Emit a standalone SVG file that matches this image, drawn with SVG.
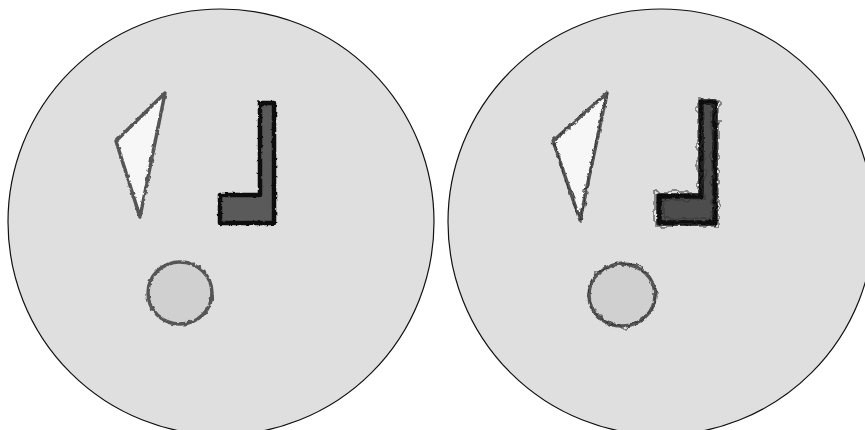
<svg xmlns="http://www.w3.org/2000/svg" width="865" height="430" viewBox="0 0 865 430">
<style>
.disk{fill:#dfdfdf;stroke:#111;stroke-width:1.2}
.tri{fill:#f7f7f7;stroke:#555;stroke-width:3.5;stroke-linejoin:round}
.ell{fill:#d0d0d0;stroke:#555;stroke-width:3.5}
.L{fill:#5a5a5a;stroke:#111;stroke-width:4.5;stroke-linejoin:round}
.L2{fill:#4e4e4e;stroke:#111;stroke-width:5.5;stroke-linejoin:round}
.loops{fill:none;stroke:#333;stroke-width:1}
</style>
<defs>
<filter id="rough" x="-10%" y="-10%" width="120%" height="120%">
<feTurbulence type="fractalNoise" baseFrequency="0.25" numOctaves="2" seed="3"/>
<feDisplacementMap in="SourceGraphic" scale="3" xChannelSelector="R" yChannelSelector="G"/>
</filter>
<filter id="rough2" x="-20%" y="-20%" width="140%" height="140%">
<feTurbulence type="fractalNoise" baseFrequency="0.1" numOctaves="2" seed="7"/>
<feDisplacementMap in="SourceGraphic" scale="11" xChannelSelector="R" yChannelSelector="G"/>
</filter>
</defs>
<rect width="865" height="430" fill="#fff"/>
<g id="left-disk">
<circle class="disk" cx="221" cy="222" r="213"/>
<g filter="url(#rough)">
<polygon class="tri" points="165,93 116,141 140,217"/>
<polygon class="L" points="260,103 274,103 274,223 220,223 220,195 260,195"/>
<ellipse class="ell" cx="180" cy="293" rx="32" ry="31"/>
</g>
</g>
<g id="right-disk">
<circle class="disk" cx="661" cy="222" r="213"/>
<g filter="url(#rough)">
<polygon class="tri" points="607,93 553,141 580,220"/>
<polygon class="L2" points="701,102 715,102 715,223 659,223 659,196 701,196"/>
<ellipse class="ell" cx="622" cy="295" rx="33" ry="31"/>
</g>
<g filter="url(#rough2)">
<polygon class="loops" points="607,93 553,141 580,220"/>
<polygon class="loops" points="698,99 718,99 718,226 656,226 656,192 698,192"/>
<polygon class="loops" points="703,106 712,106 712,218 663,218 663,200 703,200"/>
<ellipse class="loops" cx="622" cy="295" rx="34" ry="32"/>
</g>
</g>
</svg>
